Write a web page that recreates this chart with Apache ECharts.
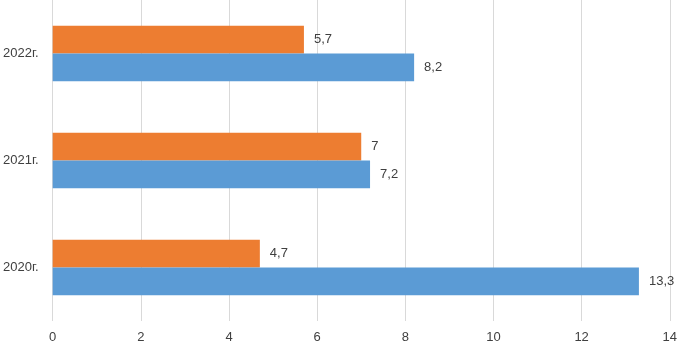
<!DOCTYPE html>
<html>
<head>
<meta charset="utf-8">
<script src="https://cdn.jsdelivr.net/npm/echarts@6/dist/echarts.min.js"></script>
<style>
  html, body { margin: 0; padding: 0; background: #fff; }
  #chart { width: 680px; height: 344px; }
</style>
</head>
<body>
<div id="chart"></div>
<script>
// данные
const years = ['2020г.', '2021г.', '2022г.'];
const orangeValues = [4.7, 7, 5.7];
const blueValues = [13.3, 7.2, 8.2];
const xTicks = [0, 2, 4, 6, 8, 10, 12, 14];

const myChart = echarts.init(document.getElementById('chart'));

const labelStyle = {
    show: true,
    position: 'right',
    distance: 10,
    color: '#404040',
    fontSize: 13,
    fontFamily: 'Liberation Sans',
    formatter: p => String(p.value).replace('.', ',')
};

const option = {
    animation: false,
    backgroundColor: '#fff',
    grid: {
        left: 52,
        right: 10,
        top: 0,
        bottom: 23
    },
    xAxis: {
        type: 'value',
        min: xTicks[0],
        max: xTicks[xTicks.length - 1],
        interval: 2,
        axisLine: { show: false },
        axisTick: { show: false },
        splitLine: { lineStyle: { color: '#d9d9d9', width: 1 } },
        axisLabel: {
            color: '#404040',
            fontSize: 13,
            fontFamily: 'Liberation Sans',
            margin: 10
        }
    },
    yAxis: {
        type: 'category',
        data: years,
        axisLine: { show: false },
        axisTick: { show: false },
        axisLabel: {
            color: '#404040',
            fontSize: 13,
            fontFamily: 'Liberation Sans',
            margin: 14
        }
    },
    series: [
        {
            name: 'orange',
            type: 'bar',
            data: orangeValues,
            barGap: 0,
            barCategoryGap: '48%',
            itemStyle: { color: '#ED7D31' },
            label: labelStyle
        },
        {
            name: 'blue',
            type: 'bar',
            data: blueValues,
            barGap: 0,
            barCategoryGap: '48%',
            itemStyle: { color: '#5B9BD5' },
            label: labelStyle
        }
    ]
};

option && myChart.setOption(option);
</script>
</body>
</html>
